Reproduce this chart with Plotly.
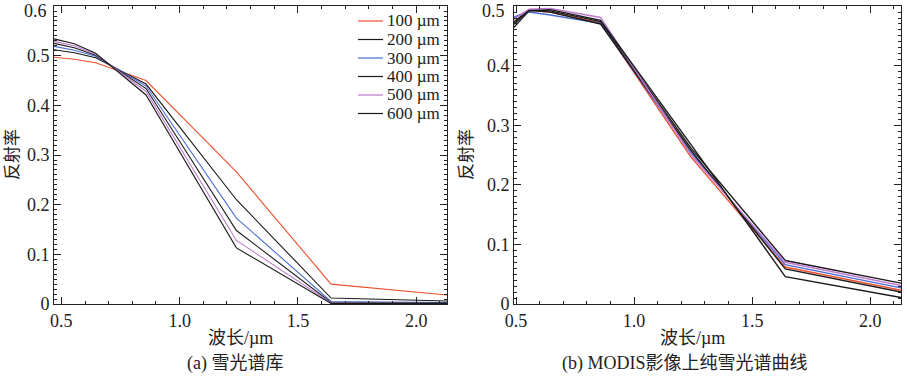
import plotly.graph_objects as go

# ---------------- data ----------------
wavelength = [0.469, 0.555, 0.645, 0.858, 1.240, 1.640, 2.130]
grain_labels = ["100 µm", "200 µm", "300 µm", "400 µm", "500 µm", "600 µm"]
line_colors = ["#f0502e", "#1a1a1a", "#4a6cd4", "#1a1a1a", "#c07ad0", "#1a1a1a"]

# (a) snow spectral library
lib_100 = [0.497, 0.493, 0.486, 0.450, 0.266, 0.040, 0.018]
lib_200 = [0.512, 0.506, 0.496, 0.443, 0.210, 0.012, 0.006]
lib_300 = [0.519, 0.511, 0.499, 0.439, 0.173, 0.005, 0.003]
lib_400 = [0.525, 0.516, 0.501, 0.434, 0.148, 0.003, 0.002]
lib_500 = [0.529, 0.520, 0.503, 0.428, 0.128, 0.002, 0.001]
lib_600 = [0.534, 0.524, 0.505, 0.421, 0.113, 0.001, 0.001]

# (b) pure snow spectra from MODIS image
modis_100 = [0.476, 0.493, 0.490, 0.472, 0.247, 0.062, 0.023]
modis_200 = [0.466, 0.494, 0.492, 0.474, 0.262, 0.073, 0.035]
modis_300 = [0.479, 0.490, 0.485, 0.471, 0.254, 0.066, 0.027]
modis_400 = [0.462, 0.493, 0.490, 0.470, 0.258, 0.059, 0.020]
modis_500 = [0.472, 0.495, 0.496, 0.481, 0.251, 0.070, 0.031]
modis_600 = [0.455, 0.492, 0.494, 0.476, 0.268, 0.046, 0.011]

library = [lib_100, lib_200, lib_300, lib_400, lib_500, lib_600]
modis = [modis_100, modis_200, modis_300, modis_400, modis_500, modis_600]

x_ticks = [0.5, 1.0, 1.5, 2.0]
x_ticktext = ["0.5", "1.0", "1.5", "2.0"]
y_ticks_a = [0, 0.1, 0.2, 0.3, 0.4, 0.5, 0.6]
y_ticks_b = [0, 0.1, 0.2, 0.3, 0.4, 0.5]
y_title = "反射率"
x_title = "波长/µm"
caption_a = "(a) 雪光谱库"
caption_b = "(b) MODIS影像上纯雪光谱曲线"

# ---------------- figure ----------------
W, H = 907, 376
FONT = "Liberation Serif"
FONT_CJK = "Liberation Serif, Noto Sans CJK SC"
AX = "#222222"
TXT = "#222222"

def fmt(t):
    return "0" if t == 0 else f"{t:.1f}"

fig = go.Figure()
for vals, name, col in zip(library, grain_labels, line_colors):
    fig.add_trace(go.Scatter(x=wavelength, y=vals, mode="lines", name=name,
                             line=dict(color=col, width=1.1),
                             xaxis="x", yaxis="y", showlegend=False, hoverinfo="skip"))
for vals, name, col in zip(modis, grain_labels, line_colors):
    fig.add_trace(go.Scatter(x=wavelength, y=vals, mode="lines", name=name,
                             line=dict(color=col, width=1.4),
                             xaxis="x2", yaxis="y2", showlegend=False, hoverinfo="skip"))

def px(x):
    return x / W

def py(y):
    return 1 - y / H

ydom = [py(304), py(6)]

def xaxis(dom, rng, anchor):
    return dict(domain=dom, range=rng, anchor=anchor, automargin=False,
                tickvals=x_ticks, ticktext=x_ticktext, ticklabeloverflow="allow",
                ticks="inside", ticklen=7, tickwidth=1, tickcolor=AX,
                minor=dict(dtick=0.1, tick0=0.5, ticks="inside", ticklen=3,
                           tickwidth=1, tickcolor=AX),
                showline=True, linecolor=AX, linewidth=1, mirror="allticks",
                showgrid=False, zeroline=False,
                tickfont=dict(family=FONT, size=18, color=TXT))

def yaxis(rng, ticks, anchor):
    # the topmost label is drawn a little lower (as in the reference) via annotation
    texts = [fmt(t) for t in ticks[:-1]] + [""]
    return dict(domain=ydom, range=rng, anchor=anchor, automargin=False,
                tickvals=ticks, ticktext=texts, ticklabeloverflow="allow",
                ticks="inside", ticklen=7, tickwidth=1, tickcolor=AX,
                minor=dict(dtick=0.01, tick0=0, ticks="inside", ticklen=3,
                           tickwidth=1, tickcolor=AX),
                showline=True, linecolor=AX, linewidth=1, mirror="allticks",
                showgrid=False, zeroline=False,
                tickfont=dict(family=FONT, size=18, color=TXT))

fig.update_layout(
    width=W, height=H,
    margin=dict(l=0, r=0, t=0, b=0),
    paper_bgcolor="white", plot_bgcolor="white",
    showlegend=False, hovermode=False,
    xaxis=xaxis([px(54), px(447)], [0.469, 2.13], "y"),
    yaxis=yaxis([0, 0.6002], y_ticks_a, "x"),
    xaxis2=xaxis([px(514), px(901)], [0.4915, 2.13], "y2"),
    yaxis2=yaxis([0, 0.5002], y_ticks_b, "x2"),
)

ann = []
shapes = []
# top y tick labels, nudged down so they stay inside the page
ann.append(dict(text=fmt(y_ticks_a[-1]), xref="paper", yref="paper", x=px(48.5), y=py(11),
                xanchor="right", yanchor="middle", showarrow=False,
                font=dict(family=FONT, size=18, color=TXT)))
ann.append(dict(text=fmt(y_ticks_b[-1]), xref="paper", yref="paper", x=px(507), y=py(11),
                xanchor="right", yanchor="middle", showarrow=False,
                font=dict(family=FONT, size=18, color=TXT)))

# manual legend for panel (a)
for i, (name, col) in enumerate(zip(grain_labels, line_colors)):
    yrow = 21 + i * 18.5
    shapes.append(dict(type="line", xref="paper", yref="paper",
                       x0=px(358), x1=px(383), y0=py(yrow), y1=py(yrow),
                       line=dict(color=col, width=1.2)))
    ann.append(dict(text=name, xref="paper", yref="paper", x=px(385), y=py(yrow),
                    xanchor="left", yanchor="middle", showarrow=False,
                    font=dict(family=FONT, size=17, color=TXT)))

for cx in (12, 466):
    ann.append(dict(text=y_title, xref="paper", yref="paper", x=px(cx), y=py(155),
                    textangle=-90, showarrow=False, xanchor="center", yanchor="middle",
                    font=dict(family=FONT_CJK, size=17, color=TXT)))
for cx in (240, 692):
    ann.append(dict(text=x_title, xref="paper", yref="paper", x=px(cx), y=py(338),
                    showarrow=False, xanchor="center", yanchor="middle",
                    font=dict(family=FONT_CJK, size=18, color=TXT)))
ann.append(dict(text=caption_a, xref="paper", yref="paper", x=px(235), y=py(363),
                showarrow=False, xanchor="center", yanchor="middle",
                font=dict(family=FONT_CJK, size=18, color=TXT)))
ann.append(dict(text=caption_b, xref="paper", yref="paper", x=px(685), y=py(363),
                showarrow=False, xanchor="center", yanchor="middle",
                font=dict(family=FONT_CJK, size=18, color=TXT)))

fig.update_layout(annotations=ann, shapes=shapes)
fig.write_html("out.html", config={"displayModeBar": False},
               post_script="document.body.style.margin='0px';document.body.style.overflow='hidden';")
